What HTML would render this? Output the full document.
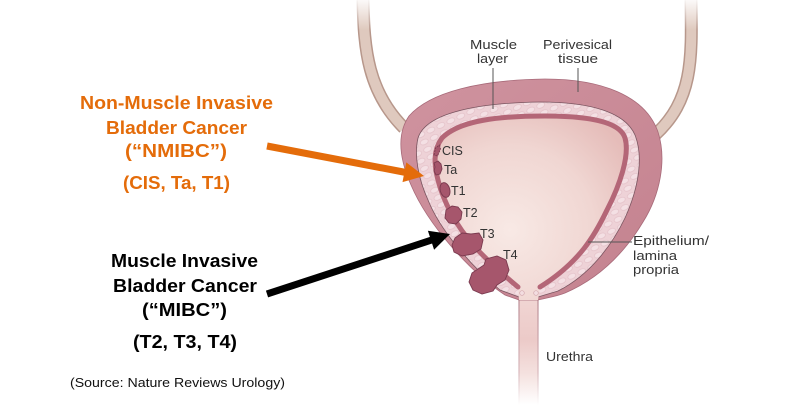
<!DOCTYPE html>
<html><head><meta charset="utf-8"><style>
html,body{margin:0;padding:0;background:#fff;}
svg{display:block;}
</style></head><body>
<svg width="800" height="418" viewBox="0 0 800 418" xmlns="http://www.w3.org/2000/svg">
<defs>
<radialGradient id="lum" cx="510" cy="230" r="140" gradientUnits="userSpaceOnUse">
<stop offset="0" stop-color="#f8e9e5"/><stop offset="0.6" stop-color="#f0d6d2"/><stop offset="1" stop-color="#e5bcb9"/>
</radialGradient>
<linearGradient id="wall" x1="0" y1="0" x2="1" y2="1">
<stop offset="0" stop-color="#cf939f"/><stop offset="1" stop-color="#c4828f"/>
</linearGradient>
<linearGradient id="ure" x1="0" y1="296" x2="0" y2="405" gradientUnits="userSpaceOnUse">
<stop offset="0" stop-color="#f1d6d4"/><stop offset="0.4" stop-color="#eccac8"/><stop offset="0.7" stop-color="#f4e0de"/><stop offset="1" stop-color="#ffffff"/>
</linearGradient>
<linearGradient id="ureL" x1="0" y1="296" x2="0" y2="405" gradientUnits="userSpaceOnUse">
<stop offset="0" stop-color="#b88a93"/><stop offset="0.7" stop-color="#d9b9bd"/><stop offset="1" stop-color="#ffffff"/>
</linearGradient>
<linearGradient id="fadeTop" x1="0" y1="0" x2="0" y2="1">
<stop offset="0" stop-color="#fff" stop-opacity="0.9"/><stop offset="1" stop-color="#fff" stop-opacity="0"/>
</linearGradient>
<pattern id="cells" width="11" height="8" patternUnits="userSpaceOnUse" patternTransform="rotate(-25)">
<rect width="11" height="8" fill="#eed2d7"/>
<ellipse cx="5.5" cy="4" rx="4.2" ry="2.6" fill="#f4e0e4" stroke="#e2bdc5" stroke-width="0.6"/>
</pattern>
</defs>

<!-- ureters -->
<path d="M363,0 C364,50 368,92 404,128" fill="none" stroke="#b7978b" stroke-width="13"/>
<path d="M363,0 C364,50 368,92 404,128" fill="none" stroke="#dfc9be" stroke-width="10"/>
<path d="M691,0 C692,60 693,100 655,135" fill="none" stroke="#b7978b" stroke-width="13"/>
<path d="M691,0 C692,60 693,100 655,135" fill="none" stroke="#dfc9be" stroke-width="10"/>
<rect x="350" y="0" width="35" height="30" fill="url(#fadeTop)"/>
<rect x="675" y="0" width="35" height="30" fill="url(#fadeTop)"/>

<!-- urethra -->
<rect x="519" y="294" width="19" height="112" fill="url(#ure)"/>
<line x1="519" y1="294" x2="519" y2="405" stroke="url(#ureL)" stroke-width="1.2"/>
<line x1="538" y1="294" x2="538" y2="405" stroke="url(#ureL)" stroke-width="1.2"/>

<!-- outer wall -->
<path d="M505,295 C470,272 428,225 411,185 C400,160 396,135 409,116 C430,92 480,80 545,79 C600,79 645,95 658,132 C667,160 660,195 643,222 C625,252 600,278 565,293 C555,297 545,298 538,300 L519,300 C514,298 510,297 505,295 Z" fill="url(#wall)" stroke="#a86a79" stroke-width="0.8"/>

<!-- muscle layer -->
<path d="M500,290 C470,265 440,230 428,200 C418,178 414,155 418,138 C425,115 470,103 540,102 C590,102 625,112 635,135 C643,155 640,185 625,218 C612,245 590,275 558,291 L538,297 L519,297 Z" fill="url(#cells)" stroke="#7a5560" stroke-width="0.8"/>

<!-- lumen -->
<path d="M518,287 C500,272 485,258 475,247 C455,225 443,200 438,180 C434,165 433,150 442,138 C460,120 500,116 545,116 C590,116 620,122 625,138 C630,155 620,185 607,210 C595,235 580,262 540,287 L538,300 L519,300 Z" fill="url(#lum)"/>
<path d="M518,287 C500,272 485,258 475,247 C455,225 443,200 438,180 C434,165 433,150 442,138 C460,120 500,116 545,116 C590,116 620,122 625,138 C630,155 620,185 607,210 C595,235 580,262 540,287" fill="none" stroke="#b46677" stroke-width="5" stroke-linecap="round"/>
<circle cx="522" cy="293" r="2.3" fill="#f3dde0" stroke="#d2a6ae" stroke-width="0.7"/>
<circle cx="536" cy="293" r="2.3" fill="#f3dde0" stroke="#d2a6ae" stroke-width="0.7"/>

<!-- tumours -->
<g fill="#a6566c" stroke="#7b3a4f" stroke-width="0.9">
<path d="M434,155 L435.5,148 L439.5,145 L440.5,149 L437.5,156 Z" stroke-dasharray="2,1"/>
<path d="M434,163 L438,161 L441,164 L442,169 L440,174 L436,175 L434,171 L435,167 Z"/>
<ellipse cx="445" cy="190" rx="4.8" ry="7.5" transform="rotate(-15 445 190)"/>
<path d="M446,210 L452,206 L458,207 L462,212 L461,219 L456,224 L449,223 L445,218 Z"/>
<path d="M455,238 L462,233 L471,234 L479,233 L483,240 L481,249 L473,254 L462,256 L454,252 L452,245 Z"/>
<path d="M472,273 L484,265 L486,259 L497,256 L506,260 L509,270 L505,280 L497,285 L493,291 L482,294 L473,290 L469,282 Z"/>
</g>

<!-- leader lines -->
<g stroke="#555" stroke-width="1">
<line x1="493" y1="68" x2="493" y2="109"/>
<line x1="578" y1="68" x2="578" y2="92"/>
<line x1="588" y1="242" x2="632" y2="242"/>
</g>

<!-- anatomy labels -->
<g font-family="Liberation Sans, Arial, sans-serif" font-size="13" fill="#333">
<text x="470" y="49" textLength="47" lengthAdjust="spacingAndGlyphs">Muscle</text>
<text x="477" y="63" textLength="31" lengthAdjust="spacingAndGlyphs">layer</text>
<text x="543" y="49" textLength="69" lengthAdjust="spacingAndGlyphs">Perivesical</text>
<text x="558" y="63" textLength="40" lengthAdjust="spacingAndGlyphs">tissue</text>
<text x="633" y="245" textLength="76" lengthAdjust="spacingAndGlyphs">Epithelium/</text>
<text x="633" y="260" textLength="44" lengthAdjust="spacingAndGlyphs">lamina</text>
<text x="633" y="274" textLength="46" lengthAdjust="spacingAndGlyphs">propria</text>
<text x="546" y="361" textLength="47" lengthAdjust="spacingAndGlyphs">Urethra</text>
</g>
<g font-family="Liberation Sans, Arial, sans-serif" font-size="12.5" fill="#333">
<text x="442" y="155">CIS</text>
<text x="444" y="174">Ta</text>
<text x="451" y="195">T1</text>
<text x="463" y="217">T2</text>
<text x="480" y="238">T3</text>
<text x="503" y="259">T4</text>
</g>

<!-- arrows -->
<line x1="267" y1="146" x2="406" y2="172.5" stroke="#e46c0a" stroke-width="7"/>
<polygon points="424,176 406.3,162.4 402.5,182.1" fill="#e46c0a"/>
<line x1="267" y1="294" x2="433" y2="239.6" stroke="#000" stroke-width="7"/>
<polygon points="450,234 434.1,249.7 427.9,230.7" fill="#000"/>

<!-- left texts -->
<g font-family="Liberation Sans, Arial, sans-serif" font-weight="bold" font-size="18" fill="#e46c0a">
<text x="80" y="109" textLength="193" lengthAdjust="spacingAndGlyphs">Non-Muscle Invasive</text>
<text x="106" y="134" textLength="141" lengthAdjust="spacingAndGlyphs">Bladder Cancer</text>
<text x="125" y="157" textLength="102" lengthAdjust="spacingAndGlyphs">(“NMIBC”)</text>
<text x="123" y="189" textLength="107" lengthAdjust="spacingAndGlyphs">(CIS, Ta, T1)</text>
</g>
<g font-family="Liberation Sans, Arial, sans-serif" font-weight="bold" font-size="18" fill="#000">
<text x="111" y="267" textLength="147" lengthAdjust="spacingAndGlyphs">Muscle Invasive</text>
<text x="113" y="292" textLength="144" lengthAdjust="spacingAndGlyphs">Bladder Cancer</text>
<text x="142" y="316" textLength="85" lengthAdjust="spacingAndGlyphs">(“MIBC”)</text>
<text x="133" y="348" textLength="104" lengthAdjust="spacingAndGlyphs">(T2, T3, T4)</text>
</g>
<text x="70" y="387" font-family="Liberation Sans, Arial, sans-serif" font-size="13" fill="#111" textLength="215" lengthAdjust="spacingAndGlyphs">(Source: Nature Reviews Urology)</text>
</svg>
</body></html>
